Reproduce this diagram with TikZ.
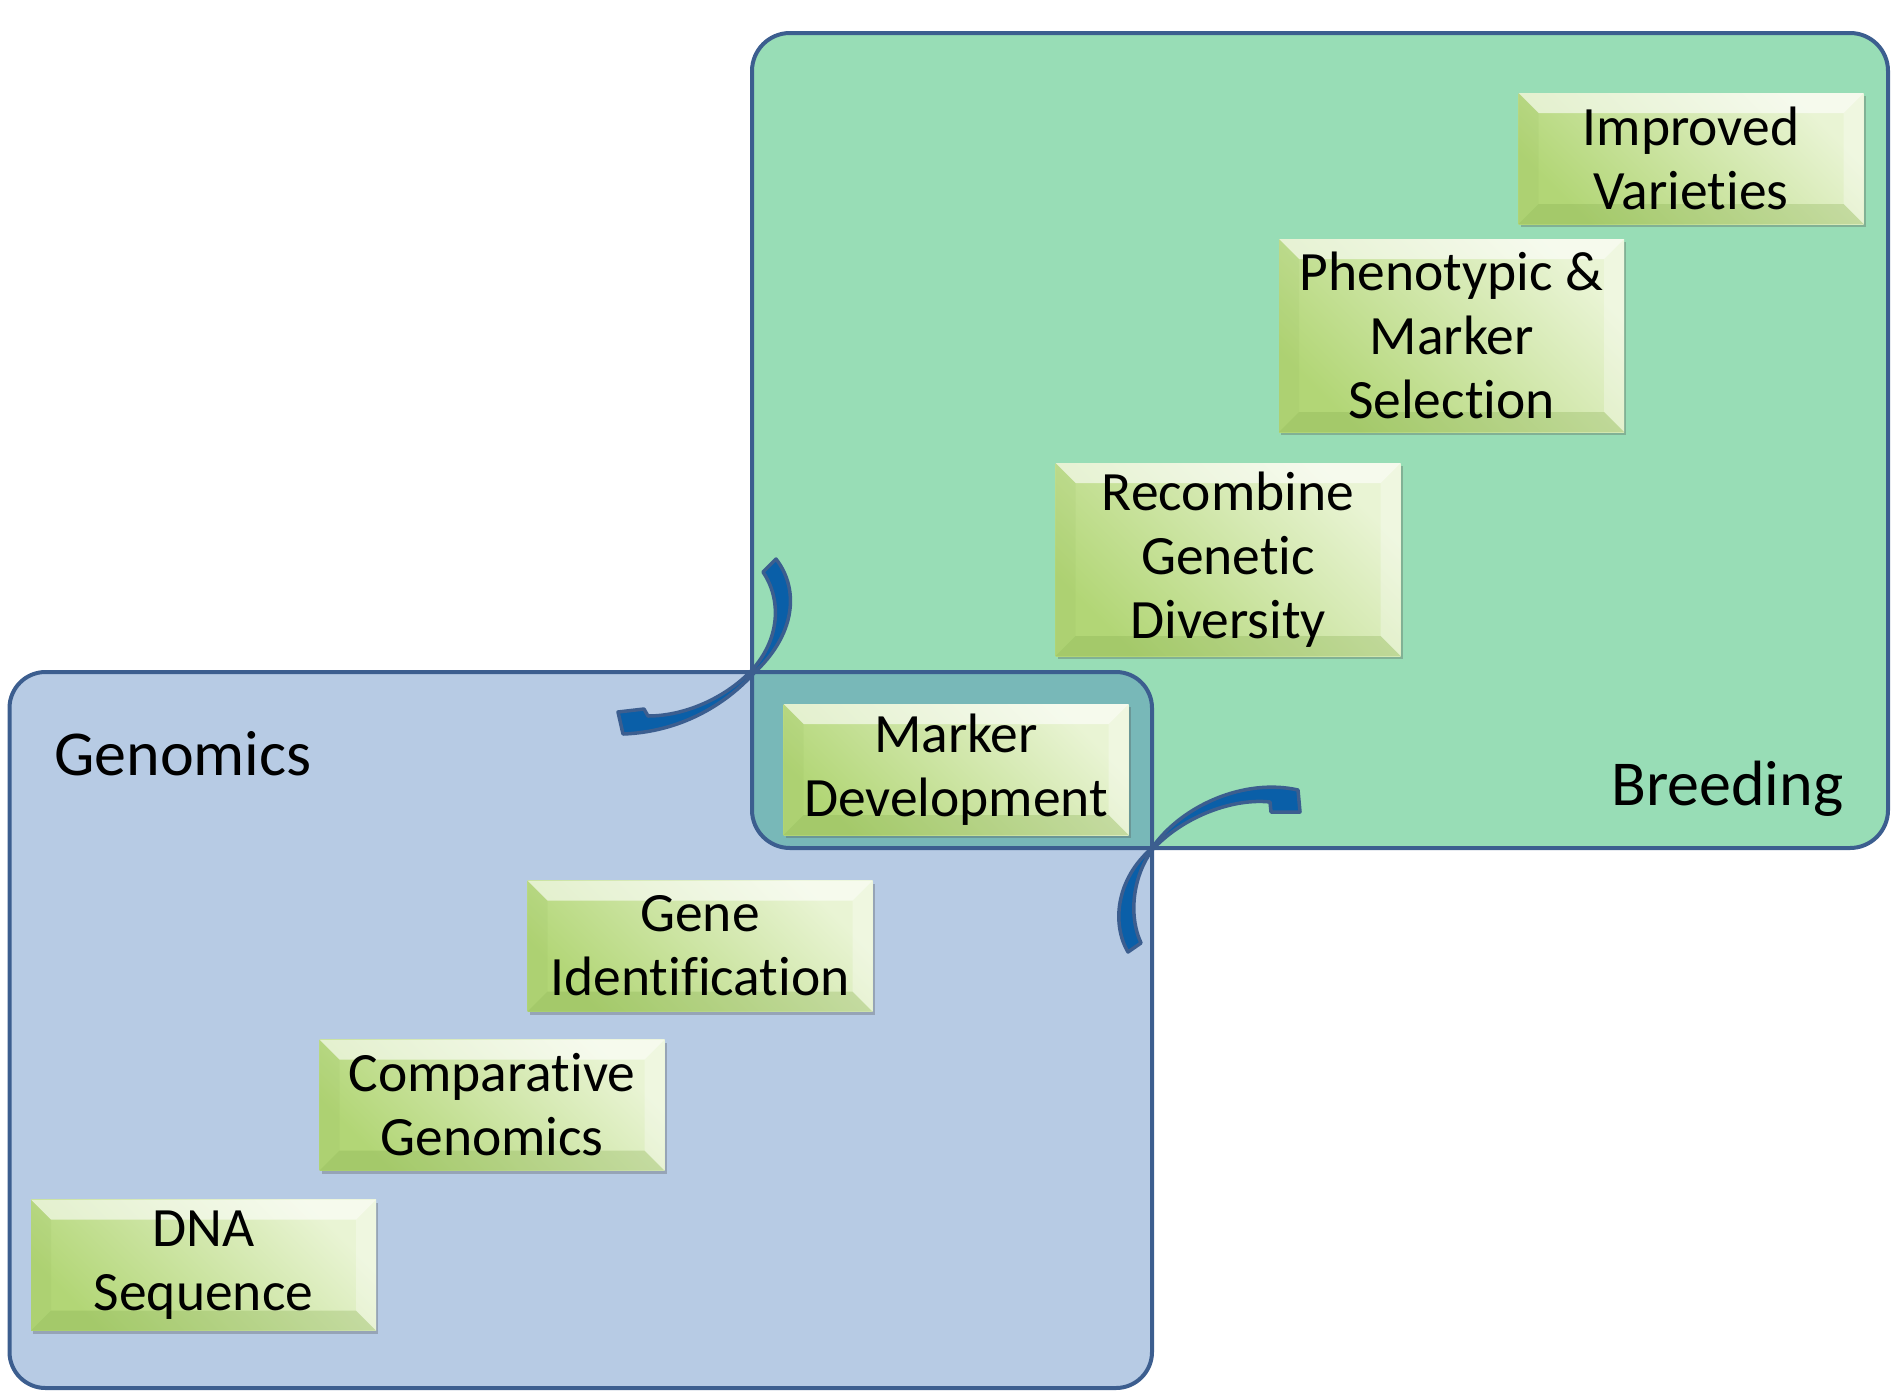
\documentclass[tikz,border=0pt]{standalone}
\usepackage{fontspec}
\setmainfont{Carlito}[RawFeature={-liga;-clig;-calt;-dlig}]
\usetikzlibrary{shadows}

\definecolor{breedfill}{HTML}{98DDB6}
\definecolor{genofill}{HTML}{B7CBE4}
\definecolor{overlapfill}{HTML}{78B8B8}
\definecolor{frame}{HTML}{3C5E8F}
\definecolor{arrowfill}{HTML}{0A5FA8}
\definecolor{boxlight}{HTML}{E9F4D4}
\definecolor{boxdark}{HTML}{B2D676}
\definecolor{bevdark}{HTML}{86AE50}

\tikzset{
  region/.style={line width=4pt, draw=frame},
  bendarrow/.style={fill=arrowfill, draw=frame, line width=3.5pt, line join=round},
  grouplabel/.style={anchor=base west, inner sep=0pt, font=\fontsize{64pt}{72pt}\selectfont},
  stepbox/.style={
    minimum width=345pt, minimum height=131pt, inner sep=0pt, align=center,
    font=\fontsize{55.5pt}{64pt}\selectfont, text=black,
    top color=boxlight, bottom color=boxdark, shading angle=-45,
    drop shadow={shadow xshift=2pt, shadow yshift=-3pt, opacity=0.3, fill=black!70},
    path picture={
      % bevelled rim: light top and right, darker bottom and left
      \fill[white, opacity=0.6]
        (path picture bounding box.north west) -- (path picture bounding box.north east)
        -- ([shift={(-20pt,-20pt)}]path picture bounding box.north east)
        -- ([shift={(20pt,-20pt)}]path picture bounding box.north west) -- cycle;
      \fill[white, opacity=0.3]
        (path picture bounding box.north east) -- (path picture bounding box.south east)
        -- ([shift={(-20pt,20pt)}]path picture bounding box.south east)
        -- ([shift={(-20pt,-20pt)}]path picture bounding box.north east) -- cycle;
      \fill[bevdark, opacity=0.3]
        (path picture bounding box.south west) -- (path picture bounding box.south east)
        -- ([shift={(-20pt,20pt)}]path picture bounding box.south east)
        -- ([shift={(20pt,20pt)}]path picture bounding box.south west) -- cycle;
      \fill[bevdark, opacity=0.1]
        (path picture bounding box.north west) -- (path picture bounding box.south west)
        -- ([shift={(20pt,20pt)}]path picture bounding box.south west)
        -- ([shift={(20pt,-20pt)}]path picture bounding box.north west) -- cycle;
    }
  },
  tallbox/.style={stepbox, minimum height=193pt}
}

\begin{document}
\begin{tikzpicture}[x=1pt, y=-1pt]
\useasboundingbox (0,0) rectangle (1892,1392);

% the two overlapping regions
\fill[genofill, rounded corners=36pt] (9.5,672) rectangle (1152,1388);
\fill[breedfill, rounded corners=38pt] (752,33) rectangle (1888,848);
\begin{scope}
  \clip[rounded corners=36pt] (9.5,672) rectangle (1152,1388);
  \fill[overlapfill, rounded corners=38pt] (752,33) rectangle (1888,848);
\end{scope}
\draw[region, rounded corners=36pt] (9.5,672) rectangle (1152,1388);
\draw[region, rounded corners=38pt] (752,33) rectangle (1888,848);

% region titles
\node[grouplabel] (genlabel) at (54,775) {Genomics};
\node[grouplabel] (breedlabel) at (1611,805) {Breeding};

% curved arrow from breeding into genomics
\path[bendarrow] (776,559) .. controls (800,590) and (795,635) .. (754,673)
  .. controls (725,705) and (680,732) .. (623,734)
  -- (618,712) -- (644,709) -- (648,716)
  .. controls (685,716) and (725,698) .. (751,671)
  .. controls (780,640) and (782,600) .. (763,572) -- cycle;

% curved arrow from genomics into breeding
\path[bendarrow] (1128,952) .. controls (1112,925) and (1115,880) .. (1152,848)
  .. controls (1182,805) and (1245,778) .. (1298,790)
  -- (1300,812) -- (1271,812) -- (1270,802)
  .. controls (1235,798) and (1185,815) .. (1153,849)
  .. controls (1133,875) and (1128,915) .. (1141,943) -- cycle;

% the staircase of steps
\node[stepbox] (dna) at (203.5,1265) {DNA\\Sequence};
\node[stepbox] (comp) at (492,1105) {Comparative\\Genomics};
\node[stepbox] (gene) at (700,946) {Gene\\Identification};
\node[stepbox] (marker) at (956,769.5) {Marker\\Development};
\node[tallbox] (recomb) at (1228,559.5) {Recombine\\Genetic\\Diversity};
\node[tallbox] (pheno) at (1451.5,335.5) {Phenotypic \&\\Marker\\Selection};
\node[stepbox] (improved) at (1691,158.5) {Improved\\Varieties};
\end{tikzpicture}
\end{document}
